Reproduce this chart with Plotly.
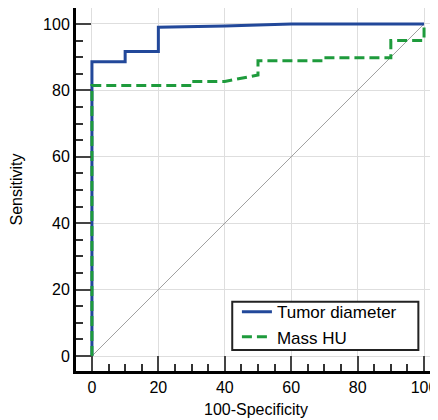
import plotly.graph_objects as go

# Data
tumor_x = [0, 0, 10, 10, 20, 20, 40, 60, 100]
tumor_y = [0, 88.6, 88.6, 91.7, 91.7, 99.0, 99.4, 100, 100]

mass_x = [0, 0, 30, 30, 40, 50, 50, 70, 70, 90, 90, 100, 100]
mass_y = [0, 81.5, 81.5, 82.7, 82.7, 84.6, 88.9, 88.9, 89.8, 89.8, 95.0, 95.0, 100]

ref_x = [0, 100]
ref_y = [0, 100]

tick_vals = [0, 20, 40, 60, 80, 100]
tick_text = ["0", "20", "40", "60", "80", "100"]

x_title = "100-Specificity"
y_title = "Sensitivity"

FONT = "Liberation Sans, Arial, sans-serif"

fig = go.Figure()
fig.add_trace(go.Scatter(x=ref_x, y=ref_y, mode="lines",
                         line=dict(color="#a0a0a0", width=1),
                         showlegend=False, hoverinfo="skip"))
fig.add_trace(go.Scatter(x=tumor_x, y=tumor_y, mode="lines", name="Tumor diameter",
                         line=dict(color="#22489a", width=3)))
fig.add_trace(go.Scatter(x=mass_x, y=mass_y, mode="lines", name="Mass HU",
                         line=dict(color="#1e9b3c", width=3, dash="10px,5px")))

axis_common = dict(
    tickvals=tick_vals, ticktext=tick_text,
    showline=True, linecolor="black", linewidth=3,
    ticks="inside", ticklen=15, tickwidth=1.5, tickcolor="#444",
    showgrid=True, gridcolor="#dedede", gridwidth=1,
    zeroline=False, automargin=False,
    tickfont=dict(family=FONT, size=16, color="black"),
    minor=dict(dtick=5, tick0=0, ticks="inside", ticklen=7, tickwidth=1.5,
               tickcolor="#333", showgrid=False),
)

fig.update_layout(
    width=430, height=412,
    margin=dict(l=68, r=2, t=0, b=49),
    paper_bgcolor="white", plot_bgcolor="white",
    xaxis=dict(range=[-4.8, 103.6], **axis_common),
    yaxis=dict(range=[-4.5, 104.8], **axis_common),
    legend=dict(x=0.447, y=0.1275, xanchor="left", yanchor="middle",
                borderwidth=0, bgcolor="rgba(0,0,0,0)",
                font=dict(family=FONT, size=17, color="black"),
                tracegroupgap=0, itemwidth=30),
    font=dict(family=FONT, size=16, color="black"),
    shapes=[dict(type="rect", xref="paper", yref="paper",
                 x0=0.434, x1=0.951, y0=0.0579, y1=0.191,
                 line=dict(color="#222", width=2), fillcolor="white",
                 layer="above")],
    annotations=[
        dict(text=x_title, xref="paper", yref="paper", x=0.5, y=-0.1047,
             xanchor="center", yanchor="middle", showarrow=False,
             font=dict(family=FONT, size=16, color="black")),
        dict(text=y_title, xref="paper", yref="paper", x=-0.1639, y=0.5,
             xanchor="center", yanchor="middle", showarrow=False, textangle=-90,
             font=dict(family=FONT, size=16, color="black")),
    ],
)

fig.write_html("out.html")
